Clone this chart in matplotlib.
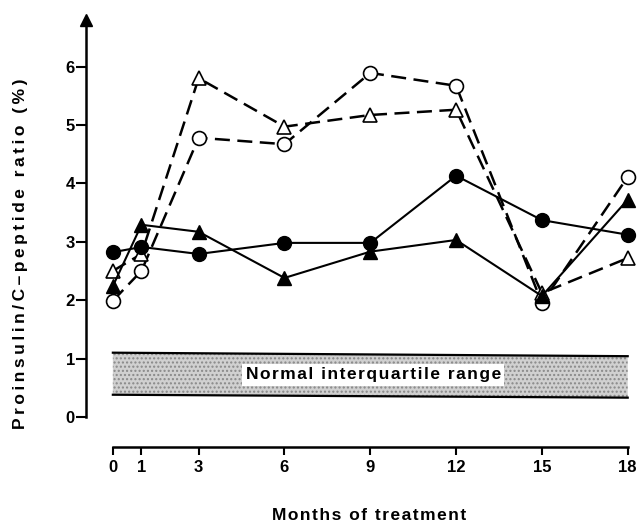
import matplotlib.pyplot as plt

plt.rcParams['font.family'] = ['Liberation Sans', 'DejaVu Sans']
plt.rcParams['font.weight'] = 'bold'
plt.rcParams['hatch.color'] = '#888888'

# months of treatment
months = [0, 1, 3, 6, 9, 12, 15, 18]

# proinsulin / C-peptide ratio (%)
filled_circle = [2.82, 2.91, 2.79, 2.98, 2.98, 4.13, 3.37, 3.12]
filled_triangle = [2.24, 3.29, 3.17, 2.38, 2.83, 3.03, 2.07, 3.72]
open_circle = [1.99, 2.50, 4.78, 4.67, 5.89, 5.67, 1.95, 4.11]
open_triangle = [2.50, 2.79, 5.80, 4.97, 5.17, 5.26, 2.12, 2.72]

# normal interquartile range (band edges at month 0 and 18)
band_x = [0, 18]
band_low = [0.38, 0.33]
band_high = [1.10, 1.04]

yticks = [0, 1, 2, 3, 4, 5, 6]


def spaced(s, gap='\u2009'):
    # the original type is letter-spaced
    return gap.join(s)


fig = plt.figure(figsize=(6.44, 5.25), dpi=100)
ax = fig.add_axes([0.1335, 0.148, 0.8634, 0.831])
ax.set_xlim(-0.94, 18.5)
ax.set_ylim(-0.52, 6.95)

# normal range band
ax.fill_between(band_x, band_low, band_high, facecolor='#d0d0d0', edgecolor='none', hatch='....', zorder=1)
ax.plot(band_x, band_low, color='black', lw=1.6, zorder=2)
ax.plot(band_x, band_high, color='black', lw=1.6, zorder=2)
ax.text(9.1, 0.72, spaced('Normal interquartile range', '\u200a'), ha='center', va='center', fontsize=12.5,
        fontweight='bold', bbox=dict(facecolor='white', edgecolor='none', pad=2.5), zorder=3)

# series
dash = (0, (6, 3))
ax.plot(months, open_circle, color='black', lw=1.8, linestyle=dash, marker='o', ms=10,
        mfc='white', mec='black', mew=1.2, zorder=4)
ax.plot(months, open_triangle, color='black', lw=1.8, linestyle=dash, marker='^', ms=10,
        mfc='white', mec='black', mew=1.2, zorder=4)
ax.plot(months, filled_circle, color='black', lw=1.5, marker='o', ms=10, mfc='black', mec='black', zorder=5)
ax.plot(months, filled_triangle, color='black', lw=1.5, marker='^', ms=10, mfc='black', mec='black', zorder=5)

# axes styling
for s in ['top', 'right']:
    ax.spines[s].set_visible(False)
ax.spines['left'].set_bounds(0, 6.8)
ax.spines['left'].set_linewidth(1.8)
ax.spines['bottom'].set_bounds(0, 18)
ax.spines['bottom'].set_linewidth(1.8)
ax.plot([-0.94], [6.8], marker='^', ms=8, color='black', clip_on=False)

ax.set_yticks(yticks)
ax.set_xticks(months)
ax.tick_params(axis='y', direction='out', length=7, width=1.5, pad=1, labelsize=12)
ax.tick_params(axis='x', direction='out', length=6, width=1.5, pad=3, labelsize=12)
for lab in ax.get_xticklabels() + ax.get_yticklabels():
    lab.set_fontweight('bold')

fig.text(21 / 644, 1 - 254 / 525, spaced('Proinsulin/C\u2013peptide ratio (%)'), rotation=90,
         ha='center', va='center', fontsize=12.5, fontweight='bold')
fig.text(0.573, 0.019, spaced('Months of treatment', '\u200a'), ha='center', va='center',
         fontsize=12.5, fontweight='bold')

fig.savefig('out.png', dpi=100)
